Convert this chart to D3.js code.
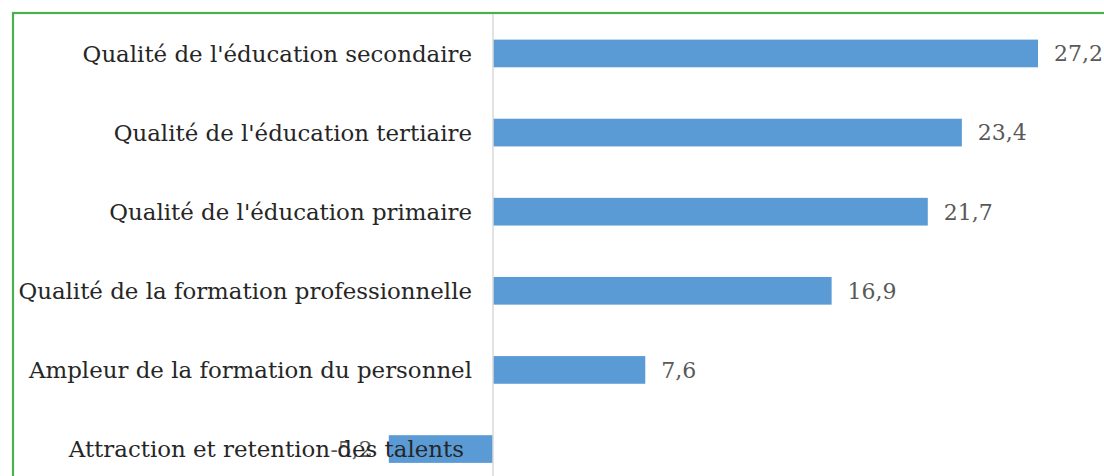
<!DOCTYPE html>
<html><head><meta charset="utf-8">
<script src="https://cdn.jsdelivr.net/npm/d3@7"></script>
<style>html,body{margin:0;padding:0;background:#fff;}svg{display:block;}</style>
</head><body>
<svg id="c" width="1104" height="476"></svg>
<script>
const categories = ["Qualité de l'éducation secondaire","Qualité de l'éducation tertiaire","Qualité de l'éducation primaire","Qualité de la formation professionnelle","Ampleur de la formation du personnel","Attraction et retention des talents"];
const values = [27.2, 23.4, 21.7, 16.9, 7.6, -5.2];
const valueLabels = ["27,2","23,4","21,7","16,9","7,6","-5,2"];

const svg = d3.select("#c");
const font = "'DejaVu Serif', serif";
// green frame
svg.append("rect").attr("x",13).attr("y",13).attr("width",1104).attr("height",476)
  .attr("fill","none").attr("stroke","#4caf50").attr("stroke-width",2.2);

const x = d3.scaleLinear().domain([0, 27.2]).range([493, 1038]);
const y = d3.scaleBand().domain(categories).range([13.5, 489]).paddingInner(0.65).paddingOuter(0.33);

// bars
svg.selectAll("rect.bar").data(values).join("rect").attr("class","bar")
  .attr("x", d => x(Math.min(0,d))).attr("width", d => Math.abs(x(d)-x(0)))
  .attr("y", (d,i) => y(categories[i])).attr("height", y.bandwidth())
  .attr("fill","#5b9bd5");

// zero line
svg.append("line").attr("x1",x(0)).attr("x2",x(0)).attr("y1",14).attr("y2",476)
  .attr("stroke","#d9d9d9").attr("stroke-width",1.5);

// value labels
svg.selectAll("text.val").data(values).join("text").attr("class","val")
  .attr("x", d => d >= 0 ? x(d) + 16 : x(d) - 16)
  .attr("y", (d,i) => y(categories[i]) + y.bandwidth()/2)
  .attr("dy","0.36em")
  .attr("text-anchor", d => d >= 0 ? "start" : "end")
  .attr("font-family", font).attr("font-size", 22).attr("fill","#595959")
  .text((d,i) => valueLabels[i]);

// category labels
svg.selectAll("text.cat").data(categories).join("text").attr("class","cat")
  .attr("x", (d,i) => values[i] < 0 ? 464 : 472)
  .attr("y", d => y(d) + y.bandwidth()/2)
  .attr("dy","0.36em")
  .attr("text-anchor","end")
  .attr("font-family", font).attr("font-size", 22.9).attr("fill","#262626")
  .text(d => d);
</script>
</body></html>
